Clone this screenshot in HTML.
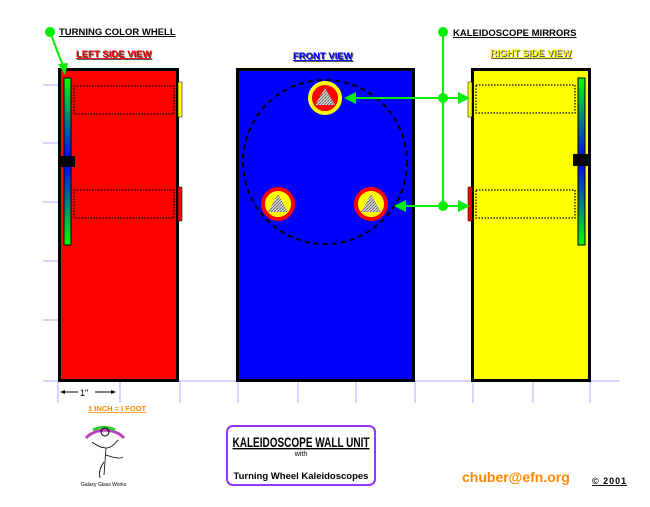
<!DOCTYPE html><html><head><style>body{margin:0;background:#fff;width:650px;height:502px;overflow:hidden}</style></head><body>
<svg width="650" height="502" xmlns="http://www.w3.org/2000/svg" font-family="Liberation Sans, Arial, sans-serif" font-weight="bold">
<defs>
<linearGradient id="g" x1="0" y1="0" x2="0" y2="1"><stop offset="0" stop-color="#00ff00"/><stop offset="0.5" stop-color="#0000ff"/><stop offset="1" stop-color="#00ff00"/></linearGradient>
<pattern id="h" width="3" height="3" patternUnits="userSpaceOnUse"><rect width="3" height="3" fill="#ddd"/><path d="M0 3L3 0" stroke="#666" stroke-width="1"/></pattern>
</defs>
<g stroke="#aab0ff" stroke-width="1">
<line x1="43" y1="381" x2="620" y2="381"/>
<line x1="43" y1="85" x2="58" y2="85"/><line x1="43" y1="143" x2="58" y2="143"/><line x1="43" y1="202" x2="58" y2="202"/><line x1="43" y1="261" x2="58" y2="261"/><line x1="43" y1="320" x2="58" y2="320"/>
<line x1="58" y1="381" x2="58" y2="403"/><line x1="120" y1="381" x2="120" y2="403"/><line x1="180" y1="381" x2="180" y2="403"/><line x1="238" y1="381" x2="238" y2="403"/><line x1="298" y1="381" x2="298" y2="403"/><line x1="356" y1="381" x2="356" y2="403"/><line x1="415" y1="381" x2="415" y2="403"/><line x1="473" y1="381" x2="473" y2="403"/><line x1="533" y1="381" x2="533" y2="403"/><line x1="590" y1="381" x2="590" y2="403"/>
</g>
<!-- left -->
<rect x="59.5" y="69.5" width="118" height="311" fill="#ff0000" stroke="#000" stroke-width="3"/>
<rect x="64" y="78" width="7" height="167" fill="url(#g)" stroke="#000" stroke-width="1"/>
<rect x="58" y="156" width="17" height="11" fill="#000"/>
<rect x="74" y="86" width="100" height="28" fill="none" stroke="#000" stroke-width="1.3" stroke-dasharray="1.5,1.5"/>
<rect x="74" y="190" width="100" height="28" fill="none" stroke="#000" stroke-width="1.3" stroke-dasharray="1.5,1.5"/>
<rect x="178" y="82" width="4" height="35" fill="#ffff00" stroke="#000" stroke-width=".5"/>
<rect x="178" y="187" width="4" height="34" fill="#ff0000" stroke="#000" stroke-width=".5"/>
<!-- front -->
<rect x="237.5" y="69.5" width="176" height="311" fill="#0000ff" stroke="#000" stroke-width="3"/>
<circle cx="325" cy="162" r="82" fill="none" stroke="#000" stroke-width="2" stroke-dasharray="5,4"/>
<circle cx="325" cy="98" r="15" fill="#ff0000" stroke="#ffff00" stroke-width="4"/>
<circle cx="278" cy="204" r="15" fill="#ffff00" stroke="#ff0000" stroke-width="4"/>
<circle cx="371" cy="204" r="15" fill="#ffff00" stroke="#ff0000" stroke-width="4"/>
<path d="M325 88L335 105H315Z M278 194L288 212H268Z M371 194L381 212H361Z" fill="url(#h)"/>
<!-- right -->
<rect x="472.5" y="69.5" width="117" height="311" fill="#ffff00" stroke="#000" stroke-width="3"/>
<rect x="578" y="78" width="7" height="167" fill="url(#g)" stroke="#000" stroke-width="1"/>
<rect x="573" y="154" width="17" height="12" fill="#000"/>
<rect x="476" y="85" width="99" height="28" fill="none" stroke="#000" stroke-width="1.3" stroke-dasharray="1.5,1.5"/>
<rect x="476" y="190" width="99" height="28" fill="none" stroke="#000" stroke-width="1.3" stroke-dasharray="1.5,1.5"/>
<rect x="468" y="82" width="4" height="35" fill="#ffff00" stroke="#000" stroke-width=".5"/>
<rect x="468" y="187" width="4" height="34" fill="#ff0000" stroke="#000" stroke-width=".5"/>
<!-- green -->
<g stroke="#00ee00" stroke-width="2" fill="#00ee00">
<line x1="50" y1="32" x2="63" y2="66"/><path d="M58 64L68 63L65 75Z" stroke="none"/>
<circle cx="50" cy="32" r="5" stroke="none"/>
<line x1="443" y1="32" x2="443" y2="206"/><circle cx="443" cy="32" r="5" stroke="none"/>
<line x1="352" y1="98" x2="460" y2="98"/><line x1="402" y1="206" x2="460" y2="206"/>
<circle cx="443" cy="98" r="5" stroke="none"/><circle cx="443" cy="206" r="5" stroke="none"/>
<path d="M344 98L356 92V104Z M394 206L406 200V212Z M470 98L458 92V104Z M470 206L458 200V212Z" stroke="none"/>
</g>
<!-- labels -->
<text x="59" y="35" font-size="9.5" fill="#000" text-decoration="underline">TURNING COLOR WHELL</text>
<text x="453" y="36" font-size="9.5" fill="#000" text-decoration="underline">KALEIDOSCOPE MIRRORS</text>
<text x="77" y="58" font-size="9.5" fill="#555" text-decoration="underline">LEFT SIDE VIEW</text>
<text x="76" y="57" font-size="9.5" fill="#ff0000" text-decoration="underline">LEFT SIDE VIEW</text>
<text x="294" y="60" font-size="9.5" fill="#555" text-decoration="underline">FRONT VIEW</text>
<text x="293" y="59" font-size="9.5" fill="#0000ff" text-decoration="underline">FRONT VIEW</text>
<text x="491" y="57" font-size="9.5" fill="#555" text-decoration="underline">RIGHT SIDE VIEW</text>
<text x="490" y="56" font-size="9.5" fill="#ffff00" text-decoration="underline">RIGHT SIDE VIEW</text>
<g stroke="#000" stroke-width="1"><line x1="62" y1="392" x2="78" y2="392"/><line x1="95" y1="392" x2="112" y2="392"/></g>
<path d="M60 392L65 390V394Z M116 392L111 390V394Z" fill="#000"/>
<text x="80" y="396" font-size="9" font-weight="normal">1"</text>
<text x="88" y="411" font-size="7.5" fill="#ff8800" text-decoration="underline">1 INCH = I FOOT</text>
<!-- logo -->
<path d="M86 438A24 20 0 0 1 124 438" fill="none" stroke="#c040c0" stroke-width="3"/>
<path d="M93 430A20 16 0 0 1 115 430" fill="none" stroke="#33cc33" stroke-width="3"/>
<circle cx="105" cy="432" r="4" fill="none" stroke="#000"/>
<path d="M92 442Q100 448 106 448Q112 448 118 440M106 448L104 475M106 455Q120 460 123 457M104 462Q98 470 100 478" fill="none" stroke="#000" stroke-width=".8"/>
<text x="81" y="486" font-size="5" font-weight="normal">Galaxy Glass Works</text>
<rect x="227" y="426" width="148" height="59" rx="6" fill="none" stroke="#9933ff" stroke-width="2"/>
<text x="301" y="447" font-size="14" text-anchor="middle" text-decoration="underline" textLength="137" lengthAdjust="spacingAndGlyphs">KALEIDOSCOPE WALL UNIT</text>
<text x="301" y="456" font-size="7" font-weight="normal" text-anchor="middle">with</text>
<text x="301" y="479" font-size="9.5" text-anchor="middle">Turning Wheel Kaleidoscopes</text>
<text x="462" y="482" font-size="14" fill="#ff8800">chuber@efn.org</text>
<text x="592" y="484" font-size="9" text-decoration="underline" letter-spacing="1">© 2001</text>
</svg>
</body></html>
